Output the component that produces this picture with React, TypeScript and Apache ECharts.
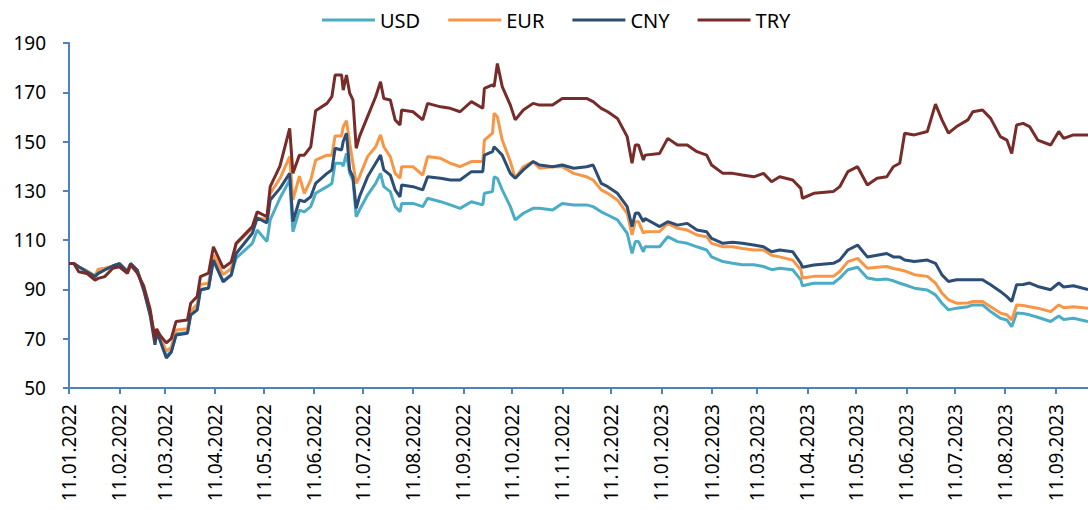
import React, { useEffect, useRef } from "react";
import * as echarts from "echarts";

const seriesNames = ["USD", "EUR", "CNY", "TRY"];
const colors = ["#4BACC6", "#F79646", "#2C4D75", "#772C2A"];

const dates = [
  "2022-01-11","2022-01-14","2022-01-17","2022-01-22","2022-01-27","2022-01-29","2022-02-02","2022-02-07","2022-02-11","2022-02-16",
  "2022-02-18","2022-02-22","2022-02-26","2022-03-02","2022-03-05","2022-03-06","2022-03-08","2022-03-12","2022-03-15","2022-03-18",
  "2022-03-25","2022-03-27","2022-03-31","2022-04-02","2022-04-07","2022-04-10","2022-04-16","2022-04-21","2022-04-24","2022-05-04",
  "2022-05-07","2022-05-13","2022-05-15","2022-05-21","2022-05-27","2022-05-29","2022-06-02","2022-06-05","2022-06-09","2022-06-12",
  "2022-06-19","2022-06-22","2022-06-24","2022-06-28","2022-06-29","2022-07-01","2022-07-03","2022-07-05","2022-07-07","2022-07-09",
  "2022-07-14","2022-07-19","2022-07-22","2022-07-24","2022-07-28","2022-07-31","2022-08-03","2022-08-04","2022-08-11","2022-08-17",
  "2022-08-20","2022-08-28","2022-09-03","2022-09-09","2022-09-16","2022-09-23","2022-09-24","2022-09-29","2022-09-30","2022-10-02",
  "2022-10-05","2022-10-10","2022-10-13","2022-10-18","2022-10-24","2022-10-28","2022-11-05","2022-11-11","2022-11-18","2022-11-26",
  "2022-11-30","2022-12-05","2022-12-09","2022-12-15","2022-12-21","2022-12-24","2022-12-26","2022-12-28","2022-12-31","2023-01-01",
  "2023-01-10","2023-01-15","2023-01-21","2023-01-27","2023-02-02","2023-02-08","2023-02-11","2023-02-18","2023-02-24","2023-03-02",
  "2023-03-09","2023-03-15","2023-03-20","2023-03-25","2023-04-02","2023-04-07","2023-04-08","2023-04-15","2023-04-27","2023-05-01",
  "2023-05-06","2023-05-12","2023-05-18","2023-05-24","2023-05-30","2023-06-03","2023-06-07","2023-06-10","2023-06-16","2023-06-24",
  "2023-06-29","2023-07-03","2023-07-07","2023-07-12","2023-07-19","2023-07-22","2023-07-28","2023-08-02","2023-08-08","2023-08-12",
  "2023-08-15","2023-08-18","2023-08-22","2023-08-26","2023-08-31","2023-09-08","2023-09-13","2023-09-16","2023-09-22","2023-10-01"
];

const usd = [
  100.5,100.5,99.2,97.5,95.5,96.5,98,99.5,100.5,97.5,
  100.5,97.9,90.5,80.5,70,73.5,70,63,65,72,
  72.5,80,82,90,90.5,102,93.5,96,102.7,108.7,
  114.1,109.4,118.2,127,134.4,113.4,122.2,121.5,123.6,129,
  131.7,133,141.2,141.2,140,145.2,137.1,134.4,119.5,122.2,
  128.3,133,137.1,131.7,129.7,123.6,121.5,124.9,124.9,123.6,
  127,125.6,124.3,122.9,125.6,124.3,129,129.7,135.7,135.1,
  130.4,123.6,118.2,120.9,122.9,122.9,122.2,124.9,124.3,124.3,
  123.6,121.5,120.2,118.2,112.8,104.6,109.4,109.4,105.3,107.3,
  107.3,111.4,109.4,108.7,107.3,106,103.2,101.3,100.6,100,
  100,99.3,98,98.6,98,93.9,91.5,92.5,92.5,94.6,
  98,99,94.6,93.9,94.2,93.5,92.5,91.9,90.5,89.8,
  87.8,84.4,81.7,82.4,83,83.7,83.7,81,78.3,77.6,
  74.9,80.4,80.2,79.7,78.7,77,79.2,77.8,78.3,77
];

const eur = [
  100.5,100.5,99.2,97.5,95.5,98.2,98.6,99.5,100.5,97.5,
  100.5,97.9,90,80.4,71,74,71,65,66.5,73.5,
  74,81,84,92,92.5,104,96,98.5,108.5,114.9,
  119,118.4,129,135,143.9,126.3,136,129,134.4,142.5,
  144.5,144.5,152.3,152.3,156,158.5,149.3,141.2,133,135.7,
  143.9,147.9,152.7,147.9,143.9,137.1,135.1,139.8,139.8,136.4,
  143.9,143.2,141.2,139.8,141.9,141.9,150.6,153.4,161.5,160.1,
  150.6,141.9,135.1,139.8,141.9,139.2,139.8,139.8,137.1,135.7,
  134.4,130.4,129,126.3,120.9,112.1,117.5,117.5,112.8,113.4,
  113.5,116.8,114.8,114.1,112.1,111.4,108.7,107.3,107.3,106.6,
  106,106,103.9,103.2,101.9,98,94.6,95.3,95.3,97.3,
  101.3,102.6,98.6,99,99.3,98.5,98,97.5,96,95.3,
  92.6,88.5,85.8,84.4,84.5,85.1,85.1,83,80.4,79.7,
  77.6,83.7,83.5,83,82.4,81,83.7,82.6,83,82.4
];

const cny = [
  100.5,100.5,99.2,97.2,95.2,96.5,97.9,99.5,100.5,97.2,
  100.5,97.9,89.8,79.5,67.5,72.5,69.5,62.2,64.5,71.5,
  72.2,79.6,81.6,89.8,90.6,101.9,93.1,95.8,104.6,112.8,
  119,117,126.3,131,137.1,117.5,126.3,125.6,127.6,133,
  137.1,138.5,147.3,146.6,150,153.4,138.5,135.7,122.9,127.6,
  135.7,141.2,144.5,138.5,136.4,130.4,127.6,132.4,131.7,130.4,
  135.7,135.1,134.4,134.4,137.8,137.8,144.5,145.9,147.9,146.6,
  144.5,137.1,135.1,138.5,141.9,140.5,139.8,140.5,139.2,139.8,
  140.5,133,131.7,129,123.6,115.5,120.9,121,117.5,118.8,
  115.5,117.5,116.1,116.8,114.1,113.4,110.7,108.7,109.1,108.7,
  108,107.3,105.3,106,105.3,100.6,99,99.9,100.6,101.9,
  106,108,103.2,103.9,104.6,103.2,103.2,101.9,101.3,101.9,
  100.6,95.9,93.2,93.9,93.9,93.9,93.9,91.9,89.2,87.1,
  85.1,91.9,92,92.6,91.2,89.9,92.6,91,91.5,89.9
];

const tryV = [
  100.5,100.5,97.2,96.5,93.8,94.5,95.2,98.6,99.2,96.5,
  99.9,96.7,91.5,82,69.5,74,71.5,68.3,70,77,
  77.6,84.4,87.1,95.2,96.6,107.3,98.7,101.2,108.7,115.5,
  121.5,119.5,131.7,140,155.4,137.1,144.5,144.5,147.9,162.5,
  165.5,168.2,177,177,170.9,177,169.6,166.9,147.3,152,
  160.1,168.2,174.3,167.5,166.9,158.8,156.7,162.8,162.1,158.8,
  165.5,164.1,163.5,162.1,166.2,163.5,171.6,173,172.3,181.7,
  172.3,164.8,158.8,162.8,165.5,164.8,164.8,167.5,167.5,167.5,
  166.2,163.5,162.1,159.4,152,141.2,148.6,148.6,142.5,144.5,
  145.2,151.3,148.6,148.6,145.9,144.5,140.5,137.1,137.1,136.4,
  135.7,137.1,133.7,135.7,134.4,131,127,129,129.7,131.7,
  137.8,139.8,132.4,135.1,135.7,139.8,141.2,153.4,152.7,154.1,
  165.2,158.8,153.4,156.1,158.8,162.1,162.8,159.4,152,150.6,
  145.2,156.7,157.4,156.1,150.6,148.6,154.1,151.3,152.7,152.7
];

const yTicks = { min: 50, max: 190, interval: 20 };
const axisStart = "2022-01-11";
const axisEnd = "2023-10-01";

function buildDays(start: string, end: string): string[] {
  const out: string[] = [];
  const s = new Date(start + "T00:00:00Z").getTime();
  const e = new Date(end + "T00:00:00Z").getTime();
  for (let t = s; t <= e; t += 86400000) {
    out.push(new Date(t).toISOString().slice(0, 10));
  }
  return out;
}

export default function App() {
  const ref = useRef<HTMLDivElement>(null);
  useEffect(() => {
    if (!ref.current) return;
    const chart = echarts.init(ref.current, undefined, { renderer: "svg" });
    const days = buildDays(axisStart, axisEnd);
    const valueSets = [usd, eur, cny, tryV];
    const isMonthTick = (_i: number, v: string) => v.slice(8, 10) === "11";
    const font = "'Noto Sans', sans-serif";
    const axisColor = "#4F81BD";
    chart.setOption({
      animation: false,
      backgroundColor: "#ffffff",
      legend: {
        top: 5,
        left: 317,
        itemWidth: 53,
        itemHeight: 3,
        itemGap: 28,
        icon: "rect",
        textStyle: { fontFamily: font, fontSize: 20, color: "#000" },
        data: seriesNames,
      },
      grid: { left: 69, right: 0, top: 43, bottom: 122, containLabel: false },
      xAxis: {
        type: "category",
        data: days,
        boundaryGap: false,
        axisLine: { show: true, lineStyle: { color: axisColor, width: 2 } },
        axisTick: { show: true, interval: isMonthTick, length: 6, lineStyle: { color: axisColor, width: 2 } },
        axisLabel: {
          interval: isMonthTick,
          rotate: 90,
          margin: 16,
          fontFamily: font,
          fontSize: 19,
          color: "#000",
          formatter: (v: string) => `${v.slice(8, 10)}.${v.slice(5, 7)}.${v.slice(0, 4)}`,
        },
        splitLine: { show: false },
      },
      yAxis: {
        type: "value",
        min: yTicks.min,
        max: yTicks.max,
        interval: yTicks.interval,
        axisLine: { show: true, lineStyle: { color: axisColor, width: 2 } },
        axisTick: { show: true, length: 6, lineStyle: { color: axisColor, width: 2 } },
        axisLabel: { margin: 23, fontFamily: font, fontSize: 19, color: "#000" },
        splitLine: { show: false },
      },
      series: seriesNames.map((name, k) => ({
        name,
        type: "line",
        symbol: "none",
        color: colors[k],
        lineStyle: { width: 3, color: colors[k] },
        data: dates.map((d, i) => [d, valueSets[k][i]]),
      })),
    });
    return () => chart.dispose();
  }, []);
  return (
    <div
      ref={ref}
      style={{ position: "fixed", left: 0, top: 0, width: 1088, height: 510, background: "#fff" }}
    />
  );
}
